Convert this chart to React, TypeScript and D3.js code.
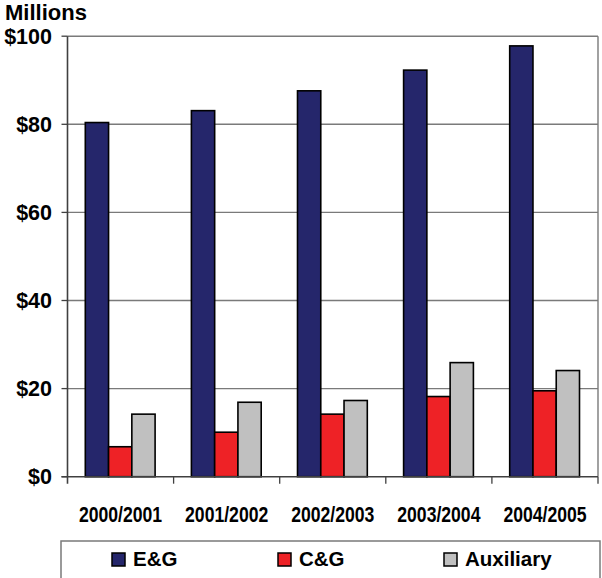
import React from "react";
import * as d3 from "d3";

const categories = ["2000/2001", "2001/2002", "2002/2003", "2003/2004", "2004/2005"];
const seriesNames = ["E&G", "C&G", "Auxiliary"];
const egValues = [80.4, 83.1, 87.6, 92.3, 97.8];
const cgValues = [6.8, 10.1, 14.2, 18.2, 19.5];
const auxValues = [14.2, 16.9, 17.3, 25.9, 24.1];
const seriesColors = ["#25266B", "#EE2226", "#C0C0C0"];
const yTicks = [0, 20, 40, 60, 80, 100];

const W = 602;
const H = 578;
const left = 67.5;
const right = 598;
const top = 36.2;
const bottom = 476.7;

export default function App() {
  const seriesValues = [egValues, cgValues, auxValues];
  const x0 = d3.scaleBand<string>().domain(categories).range([left, right]).paddingInner(0).paddingOuter(0);
  const x1 = d3.scaleBand<string>().domain(seriesNames).range([17.8, 87.6]).padding(0);
  const y = d3.scaleLinear().domain([0, 100]).range([bottom, top]);
  const font = "Arial, 'Liberation Sans', Helvetica, sans-serif";
  const legendX = [112, 278, 444];

  return (
    <svg width={W} height={H} style={{ position: "fixed", left: 0, top: 0, background: "#fff" }} fontFamily={font}>
      <rect x={0} y={0} width={W} height={H} fill="#fff" />
      {/* gridlines */}
      {yTicks.filter((t) => t > 0).map((t) => (
        <line key={"g" + t} x1={left} x2={right} y1={y(t)} y2={y(t)} stroke="#7a7a7a" strokeWidth={1.4} />
      ))}
      <line x1={right} x2={right} y1={top} y2={bottom} stroke="#7a7a7a" strokeWidth={1.4} />
      {/* bars */}
      {categories.map((c, i) => (
        <g key={c} transform={`translate(${x0(c)},0)`}>
          {seriesNames.map((s, j) => (
            <rect
              key={s}
              x={x1(s)}
              y={y(seriesValues[j][i])}
              width={x1.bandwidth()}
              height={y(0) - y(seriesValues[j][i])}
              fill={seriesColors[j]}
              stroke="#000"
              strokeWidth={1.6}
            />
          ))}
        </g>
      ))}
      {/* axes */}
      <line x1={left} x2={left} y1={top} y2={bottom + 7} stroke="#404040" strokeWidth={1.6} />
      <line x1={left - 6} x2={right} y1={bottom} y2={bottom} stroke="#404040" strokeWidth={1.6} />
      {yTicks.map((t) => (
        <g key={"t" + t}>
          <line x1={left - 6} x2={left} y1={y(t)} y2={y(t)} stroke="#404040" strokeWidth={1.3} />
          <text x={52} y={y(t)} dy="0.35em" textAnchor="end" fontSize={21.5} fontWeight="bold" fill="#000">
            {"$" + t}
          </text>
        </g>
      ))}
      {categories.map((c, i) => (
        <line key={"xt" + i} x1={(x0(c) as number) + x0.bandwidth()} x2={(x0(c) as number) + x0.bandwidth()} y1={bottom} y2={bottom + 7} stroke="#404040" strokeWidth={1.3} />
      ))}
      {categories.map((c) => (
        <text
          key={"xl" + c}
          transform={`translate(${(x0(c) as number) + x0.bandwidth() / 2},522) scale(0.8,1)`}
          textAnchor="middle"
          fontSize={22}
          fontWeight="bold"
          fill="#000"
        >
          {c}
        </text>
      ))}
      <text x={5} y={20} fontSize={22} fontWeight="bold" fill="#000">Millions</text>
      {/* legend */}
      <rect x={61} y={541} width={539} height={50} fill="#fff" stroke="#7a7a7a" strokeWidth={1.5} />
      {seriesNames.map((s, j) => (
        <g key={"lg" + s}>
          <rect x={legendX[j]} y={553} width={13} height={13} fill={seriesColors[j]} stroke="#000" strokeWidth={1.5} />
          <text x={legendX[j] + 21} y={566} fontSize={20.5} fontWeight="bold" fill="#000">{s}</text>
        </g>
      ))}
    </svg>
  );
}
